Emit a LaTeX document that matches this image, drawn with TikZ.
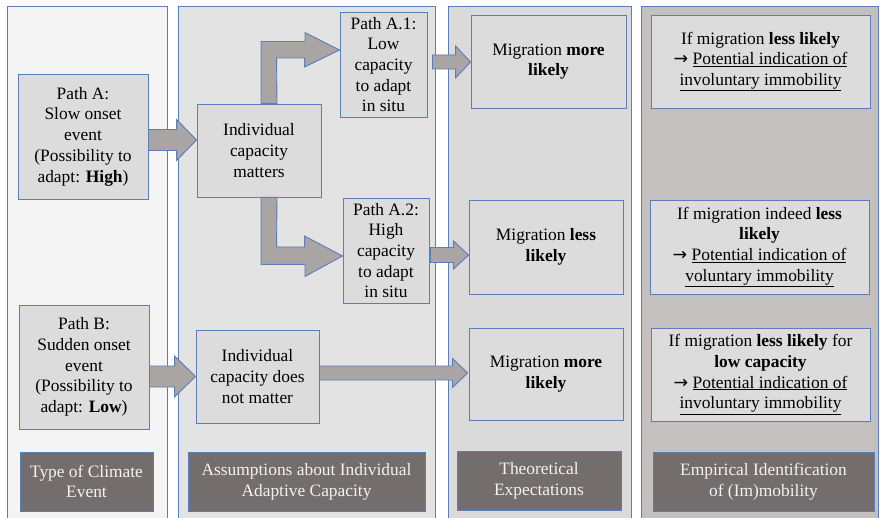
\documentclass[tikz,border=0pt]{standalone}
\usepackage{fontspec}
\setmainfont{Liberation Serif}
\newfontfamily\arrowfont{DejaVu Sans}
\usetikzlibrary{calc}
\definecolor{edgeblue}{HTML}{5B7DB8}
\definecolor{paneone}{HTML}{F4F4F5}
\definecolor{panetwo}{HTML}{E3E3E3}
\definecolor{panethree}{HTML}{DADADA}
\definecolor{panefour}{HTML}{C4C0BF}
\definecolor{boxgray}{HTML}{DCDCDC}
\definecolor{arrowgray}{HTML}{A9A5A5}
\definecolor{labelgray}{HTML}{746D6D}
\definecolor{labeltext}{HTML}{F2F2F2}
\tikzset{
  pane/.style={
    draw=edgeblue, line width=0.9pt
  },
  box/.style={
    draw=edgeblue, fill=boxgray, line width=0.9pt, align=center,
    inner sep=0pt, font=\fontsize{17.4}{20.7}\selectfont
  },
  darkbox/.style={
    box, fill=labelgray, text=labeltext
  },
  fatarrow/.style={
    draw=edgeblue, fill=arrowgray, line width=0.9pt, line join=miter
  }
}
% straight block arrow: start, tip, shaft half width, head half width, head length
\newcommand{\fatarrow}[5]{%
  \draw[fatarrow] let \p1=#1, \p2=#2 in
    (\x1,\y2+#3pt) -- (\x2-#5pt,\y2+#3pt) -- (\x2-#5pt,\y2+#4pt) -- (\p2)
    -- (\x2-#5pt,\y2-#4pt) -- (\x2-#5pt,\y2-#3pt) -- (\x1,\y2-#3pt) -- cycle;}
\newcommand{\pot}{{\arrowfont →} \underline{Potential indication of}}

\begin{document}
\begin{tikzpicture}[x=1pt, y=-1pt]
   \useasboundingbox (0,0) rectangle (880,518);
   \fill[white] (0,0) rectangle (880,518);

   % columns
   \draw[pane, fill=paneone] (7,6) rectangle (167,530);
   \draw[pane, fill=panetwo] (178,6) rectangle (435,530);
   \draw[pane, fill=panethree] (448,6) rectangle (631,530);
   \draw[pane, fill=panefour] (641,6) rectangle (878,530);

   % type of climate event
   \node[box, minimum width=130pt, minimum height=125pt] (pa) at (83,136.5)
      {Path A:\\Slow onset\\event\\(Possibility to\\adapt: \textbf{High})};
   \node[box, minimum width=130pt, minimum height=124pt] (pb) at (84,367)
      {Path B:\\Sudden onset\\event\\(Possibility to\\adapt: \textbf{Low})};

   % adaptive capacity
   \node[box, minimum width=124pt, minimum height=93pt] (icm) at (259,150.5)
      {Individual\\capacity\\matters};
   \node[box, minimum width=123pt, minimum height=93pt] (icd) at (257.5,376.5)
      {Individual\\capacity does\\not matter};
   \node[box, minimum width=87pt, minimum height=105pt] (a1) at (383.5,64.5)
      {Path A.1:\\Low\\capacity\\to adapt\\in situ};
   \node[box, minimum width=86pt, minimum height=105pt] (a2) at (386,250.5)
      {Path A.2:\\High\\capacity\\to adapt\\in situ};

   % expectations
   \node[box, minimum width=155pt, minimum height=93pt] (mm1) at (548.5,61.5)
      {Migration \textbf{more}\\\textbf{likely}};
   \node[box, minimum width=154pt, minimum height=94pt] (ml) at (546,247)
      {Migration \textbf{less}\\\textbf{likely}};
   \node[box, minimum width=154pt, minimum height=92pt] (mm2) at (546,374)
      {Migration \textbf{more}\\\textbf{likely}};

   % identification
   \node[box, minimum width=219pt, minimum height=93pt] (e1) at (760.5,61.5)
      {If migration \textbf{less likely}\\\pot\\\underline{involuntary immobility}};
   \node[box, minimum width=219pt, minimum height=94pt] (e2) at (759.5,247)
      {If migration indeed \textbf{less}\\\textbf{likely}\\\pot\\\underline{voluntary immobility}};
   \node[box, minimum width=219pt, minimum height=93pt] (e3) at (760.5,374.5)
      {If migration \textbf{less likely} for\\\textbf{low capacity}\\\pot\\\underline{involuntary immobility}};

   % column titles
   \node[darkbox, minimum width=133pt, minimum height=59pt] (t1) at (86.5,481.5)
      {Type of Climate\\Event};
   \node[darkbox, minimum width=237pt, minimum height=59pt] (t2) at (306.5,481.5)
      {Assumptions about Individual\\Adaptive Capacity};
   \node[darkbox, minimum width=164pt, minimum height=59pt] (t3) at (539,480.5)
      {Theoretical\\Expectations};
   \node[darkbox, minimum width=221pt, minimum height=59pt] (t4) at (763.5,481.5)
      {Empirical Identification\\of (Im)mobility};

   % arrows
   \fatarrow{(pa.east)}{($(icm.west)+(0,-10.5)$)}{10.5}{20.5}{20}
   \fatarrow{(pb.east)}{(icd.west)}{10.5}{20.5}{21}
   \fatarrow{($(a1.east)+(5,0)$)}{($(mm1.west)+(0,0.5)$)}{7}{16}{15}
   \fatarrow{($(a2.east)+(1,0)$)}{($(ml.west)+(0,8)$)}{7.5}{14}{15}
   \fatarrow{(icd.east)}{($(mm2.west)+(-1,-1)$)}{7}{14.5}{15}
   \draw[fatarrow] ($(icm.north)+(2,0)$) -- ++(0,-62) -- ++(44,0) -- ++(0,-9)
      -- ($(a1.west)+(0,-14.5)$) -- ++(-35,17) -- ++(0,-9) -- ++(-28,0)
      -- ($(icm.north)+(18,0)$) -- cycle;
   \draw[fatarrow] ($(icm.south)+(2,0)$) -- ++(0,67) -- ++(44,0) -- ++(0,12)
      -- ($(a2.west)+(0,5.5)$) -- ++(-38,-20) -- ++(0,11) -- ++(-28,0)
      -- ($(icm.south)+(18,0)$) -- cycle;
\end{tikzpicture}
\end{document}
